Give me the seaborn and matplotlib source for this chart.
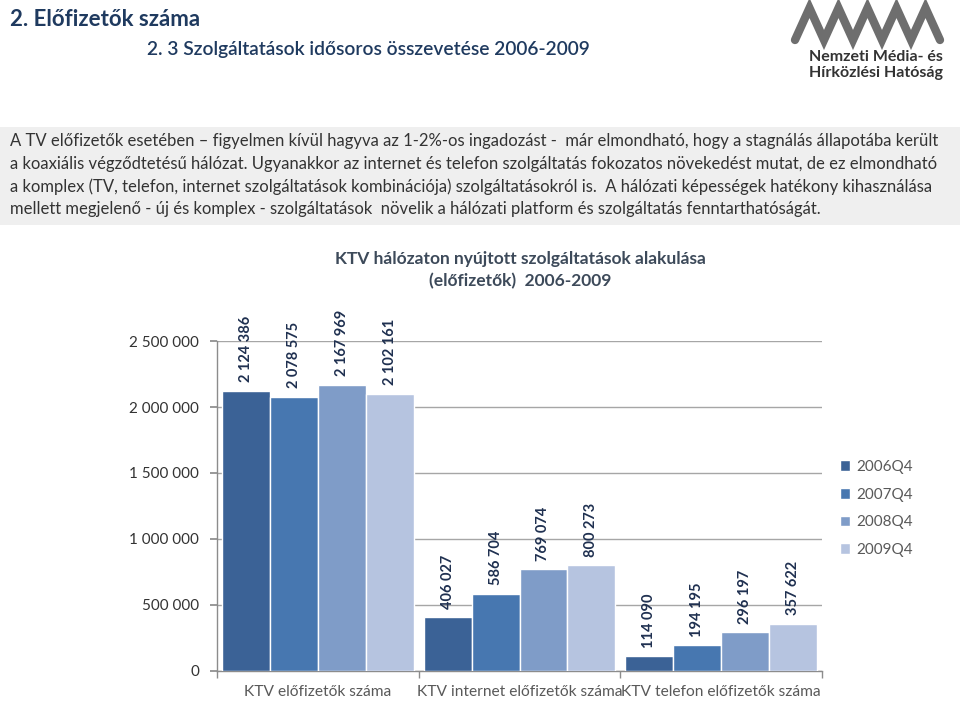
import pandas as pd
import seaborn as sns
import matplotlib.pyplot as plt
from matplotlib.ticker import FuncFormatter, FixedLocator
from matplotlib.patches import Rectangle

# ------------------------
# Data
# ------------------------
categories = ['KTV előfizetők száma', 'KTV internet előfizetők száma', 'KTV telefon előfizetők száma']
quarters = ['2006Q4', '2007Q4', '2008Q4', '2009Q4']
ktv_tv = [2124386, 2078575, 2167969, 2102161]
ktv_internet = [406027, 586704, 769074, 800273]
ktv_telefon = [114090, 194195, 296197, 357622]
y_ticks = [0, 500000, 1000000, 1500000, 2000000, 2500000]

colors = ['#3B6296', '#4777B0', '#7F9CC8', '#B6C4E0']

rows = []
for cat, vals in zip(categories, [ktv_tv, ktv_internet, ktv_telefon]):
    for q, v in zip(quarters, vals):
        rows.append({'Kategória': cat, 'Negyedév': q, 'Előfizetők': v})
df = pd.DataFrame(rows)

def space_fmt(v, pos=None):
    return f'{int(round(v)):,}'.replace(',', ' ')

sns.set_theme(style='white')
plt.rcParams['font.family'] = ['Lato', 'DejaVu Sans']

fig = plt.figure(figsize=(9.6, 7.02), dpi=100)
fig.patch.set_facecolor('white')

# ------------------------
# Slide header
# ------------------------
navy = '#1F3A5F'
fig.text(10 / 960, 1 - 19 / 702, '2. Előfizetők száma', fontsize=16, fontweight='bold',
         color=navy, va='center', ha='left')
fig.text(147 / 960, 1 - 49 / 702, '2. 3 Szolgáltatások idősoros összevetése 2006-2009',
         fontsize=13.8, fontweight='semibold', color=navy, va='center', ha='left')

# logo (rough)
fig.text(876 / 960, 1 - 57 / 702, 'Nemzeti Média- és', fontsize=11.5, fontweight='bold',
         color='#333333', ha='center', va='center')
fig.text(876 / 960, 1 - 73 / 702, 'Hírközlési Hatóság', fontsize=11.5, fontweight='bold',
         color='#333333', ha='center', va='center')
zx, zy = [], []
for i in range(11):
    zx.append((795 + i * 14.5) / 960)
    zy.append(1 - (40 if i % 2 == 0 else 8) / 702)
fig.add_artist(plt.Line2D(zx, zy, color='#6E6E6E', lw=6, transform=fig.transFigure,
                          solid_joinstyle='miter'))

# gray text box
fig.add_artist(Rectangle((0, 1 - 225 / 702), 1, 98 / 702, transform=fig.transFigure,
                         facecolor='#EFEFEF', edgecolor='none', zorder=0))
para = [
    'A TV előfizetők esetében – figyelmen kívül hagyva az 1-2%-os ingadozást -  már elmondható, hogy a stagnálás állapotába került',
    'a koaxiális végződtetésű hálózat. Ugyanakkor az internet és telefon szolgáltatás fokozatos növekedést mutat, de ez elmondható',
    'a komplex (TV, telefon, internet szolgáltatások kombinációja) szolgáltatásokról is.  A hálózati képességek hatékony kihasználása',
    'mellett megjelenő - új és komplex - szolgáltatások  növelik a hálózati platform és szolgáltatás fenntarthatóságát.',
]
for i, line in enumerate(para):
    fig.text(10 / 960, 1 - (141 + i * 22.8) / 702, line, fontsize=12, color='#333333',
             va='center', ha='left')

# ------------------------
# Chart
# ------------------------
ax = fig.add_axes([217 / 960, 1 - 671 / 702, 605 / 960, 330 / 702])
sns.barplot(data=df, x='Kategória', y='Előfizetők', hue='Negyedév', palette=colors,
            width=0.95, gap=0, saturation=1, ax=ax, zorder=3)

for cont in ax.containers:
    ax.bar_label(cont, labels=[space_fmt(b.get_height()) for b in cont], rotation=90,
                 padding=6, fontsize=10.5, fontweight='bold', color='#1F3050')

ax.set_ylim(0, 2500000)
ax.set_xlim(-0.5, 2.5)
ax.yaxis.set_major_locator(FixedLocator(y_ticks))
ax.yaxis.set_major_formatter(FuncFormatter(space_fmt))
ax.yaxis.grid(True, color='#A6A6A6', lw=1)
ax.set_axisbelow(True)
ax.set_xlabel('')
ax.set_ylabel('')

for s in ['top', 'right']:
    ax.spines[s].set_visible(False)
for s in ['left', 'bottom']:
    ax.spines[s].set_color('#8C8C8C')
    ax.spines[s].set_linewidth(1)

ax.tick_params(axis='y', left=True, length=5, color='#8C8C8C', labelsize=11,
               labelcolor='#333333', pad=8)
ax.tick_params(axis='x', which='major', length=0, labelsize=11.2, labelcolor='#595959', pad=10)
ax.xaxis.set_minor_locator(FixedLocator([-0.5, 0.5, 1.5, 2.5]))
ax.tick_params(axis='x', which='minor', bottom=True, length=5, color='#8C8C8C')

ax.set_title('KTV hálózaton nyújtott szolgáltatások alakulása\n(előfizetők)  2006-2009',
             fontsize=12.5, fontweight='bold', color='#3D4A5A', pad=0, y=1.0)
ax.title.set_position((303 / 605, (671 - 251) / 330))
ax.title.set_va('top')
ax.title.set_linespacing(1.45)

leg = ax.legend(loc='upper left', bbox_to_anchor=(826 / 960, 1 - 446 / 702),
                bbox_transform=fig.transFigure, frameon=False, fontsize=11,
                labelcolor='#595959', handlelength=0.7, handleheight=0.7,
                handletextpad=0.4, labelspacing=0.9)

fig.savefig('out.png', dpi=100)
